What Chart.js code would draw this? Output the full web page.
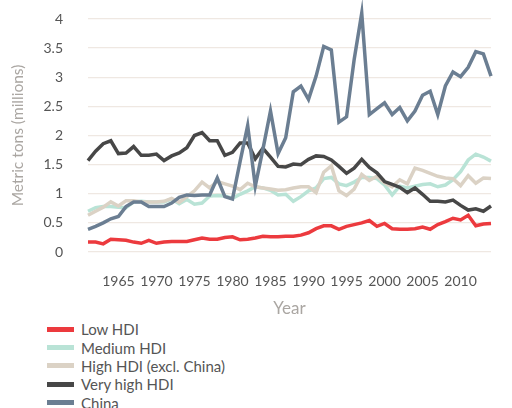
<!DOCTYPE html>
<html>
<head>
<meta charset="utf-8">
<script src="https://cdn.jsdelivr.net/npm/chart.js@4.4.1/dist/chart.umd.min.js"></script>
<style>
  html, body { margin: 0; padding: 0; background: #fff; }
  #wrap { position: relative; width: 512px; height: 408px; overflow: hidden; font-family: Lato, "Open Sans", sans-serif; }
  #box { position: absolute; left: 0; top: 0; width: 512px; height: 320px; }
  #legend { position: absolute; left: 47px; top: 320px; margin: 0; padding: 0; list-style: none; }
  #legend li { display: flex; align-items: center; height: 18.4px; font-size: 15px; color: #555; }
  #legend .sw { width: 27px; height: 5px; margin-right: 7px; }
</style>
</head>
<body>
<div id="wrap">
  <div id="box"><canvas id="chart"></canvas></div>
  <ul id="legend"></ul>
</div>
<script>
// years 1961-2014
const years = [];
for (let y = 1961; y <= 2014; y++) years.push(y);

const seriesNames = ["Low HDI", "Medium HDI", "High HDI (excl. China)", "Very high HDI", "China"];
const seriesColors = ["#ec3a3e", "#b9e3d6", "#dbd2c5", "#474747", "#6b7e92"];

const lowHDI = [0.17, 0.17, 0.14, 0.22, 0.21, 0.20, 0.17, 0.15, 0.20, 0.15,
  0.17, 0.18, 0.18, 0.18, 0.21, 0.24, 0.22, 0.22, 0.25, 0.26,
  0.21, 0.22, 0.24, 0.27, 0.26, 0.26, 0.27, 0.27, 0.29, 0.33,
  0.40, 0.45, 0.45, 0.39, 0.44, 0.47, 0.50, 0.54, 0.44, 0.49,
  0.40, 0.39, 0.39, 0.40, 0.43, 0.39, 0.47, 0.52, 0.58, 0.55,
  0.63, 0.45, 0.48, 0.49];
const mediumHDI = [0.70, 0.76, 0.78, 0.78, 0.77, 0.76, 0.86, 0.87, 0.86, 0.86,
  0.86, 0.91, 0.83, 0.90, 0.82, 0.84, 0.96, 0.97, 0.96, 0.92,
  0.99, 1.05, 1.12, 1.10, 1.06, 0.98, 0.99, 0.87, 0.95, 1.05,
  1.10, 1.26, 1.28, 1.17, 1.14, 1.20, 1.28, 1.28, 1.26, 1.15,
  0.98, 1.13, 1.10, 1.13, 1.16, 1.17, 1.12, 1.15, 1.24, 1.38,
  1.58, 1.68, 1.63, 1.56];
const highHDI = [0.63, 0.70, 0.77, 0.86, 0.79, 0.88, 0.88, 0.86, 0.86, 0.86,
  0.87, 0.92, 0.85, 0.95, 1.05, 1.20, 1.10, 1.21, 1.17, 1.13,
  1.07, 1.18, 1.12, 1.10, 1.08, 1.06, 1.07, 1.10, 1.12, 1.12,
  1.02, 1.37, 1.48, 1.05, 0.97, 1.08, 1.33, 1.23, 1.30, 1.19,
  1.12, 1.24, 1.17, 1.44, 1.40, 1.35, 1.30, 1.27, 1.26, 1.14,
  1.31, 1.18, 1.27, 1.26];
const veryHighHDI = [1.57, 1.73, 1.86, 1.91, 1.69, 1.70, 1.81, 1.66, 1.66, 1.68,
  1.57, 1.65, 1.70, 1.79, 2.00, 2.05, 1.91, 1.91, 1.66, 1.71,
  1.87, 1.87, 1.60, 1.78, 1.63, 1.47, 1.46, 1.51, 1.50, 1.59,
  1.65, 1.64, 1.58, 1.47, 1.35, 1.44, 1.59, 1.45, 1.36, 1.21,
  1.16, 1.11, 1.02, 1.10, 0.99, 0.87, 0.87, 0.86, 0.89, 0.80,
  0.72, 0.74, 0.70, 0.79];
const china = [0.39, 0.44, 0.50, 0.57, 0.61, 0.78, 0.86, 0.86, 0.78, 0.78,
  0.78, 0.84, 0.94, 0.98, 0.97, 0.98, 0.98, 1.27, 0.95, 0.91,
  1.55, 2.17, 1.13, 1.76, 2.42, 1.69, 1.96, 2.75, 2.85, 2.62,
  3.02, 3.53, 3.47, 2.23, 2.32, 3.30, 4.10, 2.36, 2.46, 2.56,
  2.36, 2.48, 2.25, 2.42, 2.69, 2.76, 2.36, 2.85, 3.09, 3.01,
  3.17, 3.44, 3.40, 3.02];

const seriesData = [lowHDI, mediumHDI, highHDI, veryHighHDI, china];
const yTicks = [0, 0.5, 1, 1.5, 2, 2.5, 3, 3.5, 4];

const fontFamily = "Lato, 'Open Sans', sans-serif";

const datasets = seriesNames.map((name, i) => ({
  label: name,
  data: seriesData[i],
  borderColor: seriesColors[i],
  backgroundColor: seriesColors[i],
  borderWidth: 3.5,
  pointRadius: 0,
  pointHoverRadius: 0,
  tension: 0,
  fill: false,
  clip: false,
  order: seriesNames.length - 1 - i,
}));

new Chart(document.getElementById("chart"), {
  type: "line",
  data: { labels: years, datasets },
  options: {
    responsive: true,
    maintainAspectRatio: false,
    animation: false,
    layout: { padding: { top: 19, right: 3, left: 0, bottom: 0 } },
    plugins: { legend: { display: false }, tooltip: { enabled: false } },
    scales: {
      x: {
        grid: { display: false, drawTicks: false },
        border: { display: false },
        afterFit: (scale) => { scale.height = 68; },
        ticks: {
          autoSkip: false,
          maxRotation: 0,
          padding: 21,
          color: "#555",
          font: { family: fontFamily, size: 14 },
          callback: function (v) {
            const y = years[v];
            return y % 5 === 0 ? String(y) : "";
          },
        },
        title: {
          display: true,
          text: "Year",
          color: "#aaa6a2",
          font: { family: fontFamily, size: 17 },
          padding: { top: 8, bottom: 1 },
        },
      },
      y: {
        min: 0,
        max: 4,
        afterBuildTicks: (axis) => { axis.ticks = yTicks.map((v) => ({ value: v })); },
        afterFit: (scale) => {
          scale.width = 88;
          // tick padding is meant as horizontal gap only
          scale.paddingTop = 0;
          scale.paddingBottom = 0;
        },
        grid: { color: "#efe8e2", lineWidth: 1.3, drawTicks: false },
        border: { display: false },
        ticks: {
          padding: 25,
          color: "#555",
          font: { family: fontFamily, size: 14 },
          callback: (v) => String(v),
        },
        title: {
          display: true,
          text: "Metric tons (millions)",
          color: "#aaa6a2",
          font: { family: fontFamily, size: 15.5 },
          padding: { top: 9, bottom: 13 },
        },
      },
    },
  },
});

// stacked legend below the chart
const legend = document.getElementById("legend");
seriesNames.forEach((name, i) => {
  const li = document.createElement("li");
  const sw = document.createElement("span");
  sw.className = "sw";
  sw.style.background = seriesColors[i];
  li.appendChild(sw);
  li.appendChild(document.createTextNode(name));
  legend.appendChild(li);
});
</script>
</body>
</html>
